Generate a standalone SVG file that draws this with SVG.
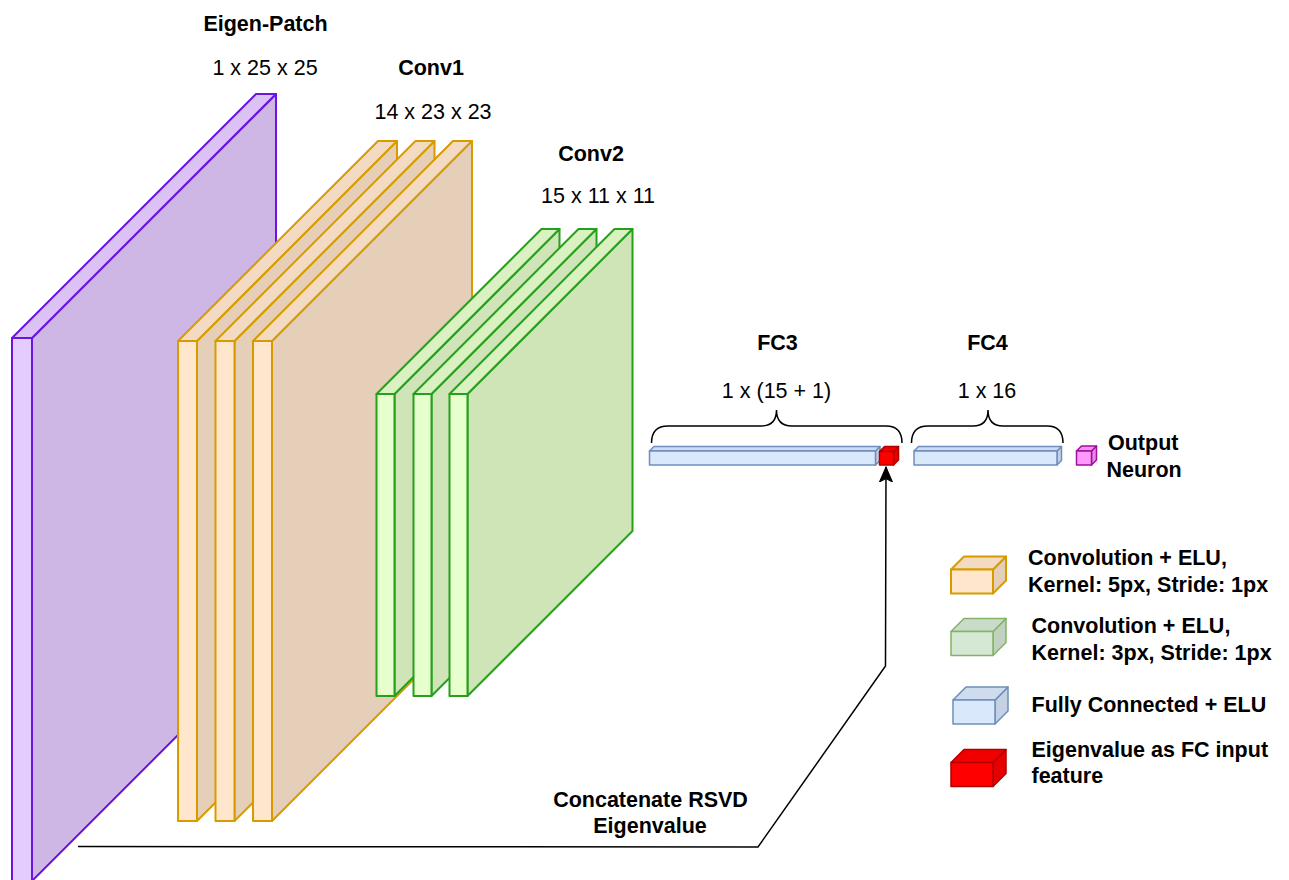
<svg xmlns="http://www.w3.org/2000/svg" width="1289" height="880" viewBox="0 0 1289 880">
<defs>
<style>
text{font-family:"Liberation Sans",Arial,Helvetica,sans-serif;font-size:21.5px;fill:#000;stroke:none}
.b{font-weight:bold}
.m{text-anchor:middle}
.pu{stroke:#6c14e0;stroke-width:2;stroke-linejoin:round}
.pu .f{fill:#e5ccff}.pu .s{fill:#ceb7e5}.pu .t{fill:#dac2f2}
.or{stroke:#d79b00;stroke-width:2;stroke-linejoin:round}
.or .f{fill:#ffe6cc}.or .s{fill:#e6cfb8}.or .t{fill:#f2dbc2}
.gr{stroke:#24a01a;stroke-width:2;stroke-linejoin:round}
.gr .f{fill:#e6ffcc}.gr .s{fill:#cfe5b8}.gr .t{fill:#daf2c2}
.lg{stroke:#82b366;stroke-width:1.5;stroke-linejoin:round}
.lg .f{fill:#d5e8d4}.lg .s{fill:#c0d1bf}.lg .t{fill:#cadcc9}
.bl{stroke:#6c8ebf;stroke-width:1.5;stroke-linejoin:round}
.bl .f{fill:#dae8fc}.bl .s{fill:#c4d1e3}.bl .t{fill:#cfdcef}
.rd{stroke:#b20000;stroke-width:1.5;stroke-linejoin:round}
.rd .f{fill:#ff0000}.rd .s{fill:#e60000}.rd .t{fill:#f20000}
.pk{stroke:#a0109a;stroke-width:1.5;stroke-linejoin:round}
.pk .f{fill:#ff99ff}.pk .s{fill:#e68ae6}.pk .t{fill:#f291f2}
.brace{fill:none;stroke:#000;stroke-width:1.5}
.conn{fill:none;stroke:#000;stroke-width:1.5}
</style>
<marker id="arr" viewBox="0 0 16 16" refX="15" refY="8" markerWidth="16" markerHeight="16" markerUnits="userSpaceOnUse" orient="auto">
<path d="M0,1.5 L15,8 L0,14.5 L3.5,8 Z" fill="#000" stroke="#000" stroke-width="1"/>
</marker>
</defs>

<!-- Eigen-Patch -->
<g id="eigen-patch" class="pu">
<polygon class="s" points="32,338 276,94 276,637 32,881"/>
<polygon class="t" points="12,338 256,94 276,94 32,338"/>
<rect class="f" x="12" y="338" width="20" height="543"/>
</g>

<!-- Conv1 -->
<g id="conv1" class="or">
<g id="conv1-a">
<polygon class="s" points="197,341 397,141 397,621 197,821"/>
<polygon class="t" points="178,341 378,141 397,141 197,341"/>
<rect class="f" x="178" y="341" width="19" height="480"/>
</g>
<g id="conv1-b">
<polygon class="s" points="234.5,341 434.5,141 434.5,621 234.5,821"/>
<polygon class="t" points="215.5,341 415.5,141 434.5,141 234.5,341"/>
<rect class="f" x="215.5" y="341" width="19" height="480"/>
</g>
<g id="conv1-c">
<polygon class="s" points="272,341 472,141 472,621 272,821"/>
<polygon class="t" points="253,341 453,141 472,141 272,341"/>
<rect class="f" x="253" y="341" width="19" height="480"/>
</g>
</g>

<!-- Conv2 -->
<g id="conv2" class="gr">
<g id="conv2-a">
<polygon class="s" points="394.5,394 559.5,229 559.5,531 394.5,696"/>
<polygon class="t" points="376.5,394 541.5,229 559.5,229 394.5,394"/>
<rect class="f" x="376.5" y="394" width="18" height="302"/>
</g>
<g id="conv2-b">
<polygon class="s" points="431.5,394 596.5,229 596.5,531 431.5,696"/>
<polygon class="t" points="413.5,394 578.5,229 596.5,229 431.5,394"/>
<rect class="f" x="413.5" y="394" width="18" height="302"/>
</g>
<g id="conv2-c">
<polygon class="s" points="467.5,394 632.5,229 632.5,531 467.5,696"/>
<polygon class="t" points="449.5,394 614.5,229 632.5,229 467.5,394"/>
<rect class="f" x="449.5" y="394" width="18" height="302"/>
</g>
</g>

<!-- FC3 -->
<g id="fc3" class="bl">
<polygon class="s" points="875.5,451 880,446.5 880,460.5 875.5,465"/>
<polygon class="t" points="649.5,451 654,446.5 880,446.5 875.5,451"/>
<rect class="f" x="649.5" y="451" width="226" height="14"/>
</g>
<g id="eigenvalue-cube" class="rd">
<polygon class="s" points="893.5,451.5 898.5,446.5 898.5,460 893.5,465"/>
<polygon class="t" points="879.5,451.5 884.5,446.5 898.5,446.5 893.5,451.5"/>
<rect class="f" x="879.5" y="451.5" width="14" height="13.5"/>
</g>
<!-- FC4 -->
<g id="fc4" class="bl">
<polygon class="s" points="1057,451 1061.5,446.5 1061.5,460.5 1057,465"/>
<polygon class="t" points="914,451 918.5,446.5 1061.5,446.5 1057,451"/>
<rect class="f" x="914" y="451" width="143" height="14"/>
</g>
<!-- Output neuron -->
<g id="output-neuron" class="pk">
<polygon class="s" points="1091.5,451 1096.5,446 1096.5,460 1091.5,465"/>
<polygon class="t" points="1076.5,451 1081.5,446 1096.5,446 1091.5,451"/>
<rect class="f" x="1076.5" y="451" width="15" height="14"/>
<text class="b" x="1108" y="450">Output</text>
<text class="b" x="1106.5" y="477">Neuron</text>
</g>

<!-- Braces -->
<g id="braces">
<path class="brace" d="M651.5,443 Q651.5,426 668,426 L761,426 Q776.5,426 776.5,410 Q776.5,426 792,426 L886,426 Q902,426 902,443"/>
<path class="brace" d="M911.5,443 Q911.5,426 928,426 L973,426 Q988,426 988,410 Q988,426 1003,426 L1047,426 Q1063,426 1063,443"/>
</g>

<!-- Labels -->
<g id="labels">
<text class="b m" x="265.5" y="30.5">Eigen-Patch</text>
<text class="m" x="265" y="75">1 x 25 x 25</text>
<text class="b m" x="431" y="75">Conv1</text>
<text class="m" x="433" y="119">14 x 23 x 23</text>
<text class="b m" x="591" y="161">Conv2</text>
<text class="m" x="598" y="202.5">15 x 11 x 11</text>
<text class="b m" x="777.5" y="350">FC3</text>
<text class="m" x="776.5" y="397.5">1 x (15 + 1)</text>
<text class="b m" x="987.5" y="350">FC4</text>
<text class="m" x="987" y="397.5">1 x 16</text>
<text class="b m" x="650.5" y="806.5">Concatenate RSVD</text>
<text class="b m" x="650" y="833">Eigenvalue</text>
</g>

<!-- Connector -->
<g id="connectors">
<path class="conn" d="M78,846.5 L758,847 L885.5,666 L886,467" marker-end="url(#arr)"/>
</g>

<!-- Legend -->
<g id="legend">
<g id="legend-conv5" class="or">
<polygon class="s" points="993,569.5 1006,556.5 1006,580.5 993,593.5"/>
<polygon class="t" points="951,569.5 964,556.5 1006,556.5 993,569.5"/>
<rect class="f" x="951" y="569.5" width="42" height="24"/>
<text class="b" x="1028" y="565">Convolution + ELU,</text>
<text class="b" x="1028" y="591.5">Kernel: 5px, Stride: 1px</text>
</g>
<g id="legend-conv3" class="lg">
<polygon class="s" points="993,631.5 1006,618.5 1006,642.5 993,655.5"/>
<polygon class="t" points="951,631.5 964,618.5 1006,618.5 993,631.5"/>
<rect class="f" x="951" y="631.5" width="42" height="24"/>
<text class="b" x="1031.5" y="633">Convolution + ELU,</text>
<text class="b" x="1031.5" y="660">Kernel: 3px, Stride: 1px</text>
</g>
<g id="legend-fc" class="bl">
<polygon class="s" points="995,700 1008,687 1008,711 995,724"/>
<polygon class="t" points="953,700 966,687 1008,687 995,700"/>
<rect class="f" x="953" y="700" width="42" height="24"/>
<text class="b" x="1031.5" y="711.5">Fully Connected + ELU</text>
</g>
<g id="legend-eigen" class="rd">
<polygon class="s" points="993,762.5 1006,749.5 1006,773.5 993,786.5"/>
<polygon class="t" points="951,762.5 964,749.5 1006,749.5 993,762.5"/>
<rect class="f" x="951" y="762.5" width="42" height="24"/>
<text class="b" x="1031.5" y="756.5">Eigenvalue as FC input</text>
<text class="b" x="1031.5" y="782.5">feature</text>
</g>
</g>
</svg>
